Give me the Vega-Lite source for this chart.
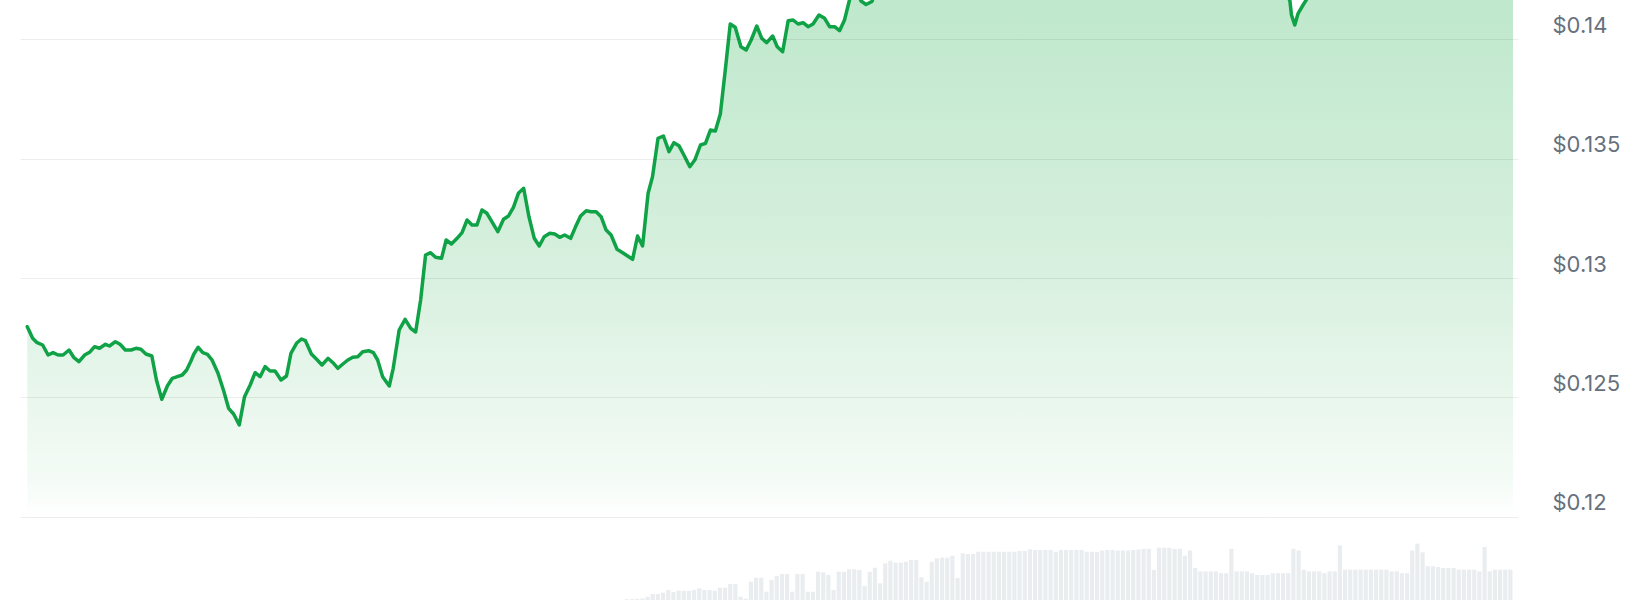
{
  "$schema": "https://vega.github.io/schema/vega-lite/v6.json",
  "width": 1498,
  "height": 600,
  "autosize": {"type": "none"},
  "padding": {"left": 20, "right": 126, "top": 0, "bottom": 0},
  "background": "white",
  "config": {"view": {"stroke": null}},
  "datasets": {
    "price": [
      {"hour":0.037,"price":0.127962},{"hour":0.123,"price":0.127477},{"hour":0.187,"price":0.12731},{"hour":0.284,"price":0.127197},{"hour":0.373,"price":0.126778},{"hour":0.453,"price":0.126874},{"hour":0.534,"price":0.126778},{"hour":0.614,"price":0.126778},{"hour":0.71,"price":0.126987},{"hour":0.785,"price":0.126682},{"hour":0.87,"price":0.126498},{"hour":0.961,"price":0.126778},{"hour":1.041,"price":0.126891},{"hour":1.122,"price":0.127126},{"hour":1.202,"price":0.127059},{"hour":1.298,"price":0.127226},{"hour":1.362,"price":0.127155},{"hour":1.458,"price":0.127335},{"hour":1.533,"price":0.127226},{"hour":1.618,"price":0.126987},{"hour":1.71,"price":0.126987},{"hour":1.79,"price":0.127059},{"hour":1.87,"price":0.127017},{"hour":1.95,"price":0.12682},{"hour":2.046,"price":0.126736},{"hour":2.12,"price":0.125732},{"hour":2.206,"price":0.124925},{"hour":2.296,"price":0.125481},{"hour":2.376,"price":0.125803},{"hour":2.456,"price":0.12587},{"hour":2.536,"price":0.125941},{"hour":2.607,"price":0.126151},{"hour":2.671,"price":0.126498},{"hour":2.724,"price":0.12682},{"hour":2.793,"price":0.1271},{"hour":2.868,"price":0.126874},{"hour":2.943,"price":0.126808},{"hour":3.017,"price":0.126569},{"hour":3.113,"price":0.126012},{"hour":3.204,"price":0.125284},{"hour":3.284,"price":0.124548},{"hour":3.365,"price":0.12431},{"hour":3.456,"price":0.123849},{"hour":3.541,"price":0.125034},{"hour":3.632,"price":0.125523},{"hour":3.712,"price":0.126038},{"hour":3.792,"price":0.12587},{"hour":3.872,"price":0.126289},{"hour":3.953,"price":0.126109},{"hour":4.033,"price":0.126109},{"hour":4.129,"price":0.125732},{"hour":4.218,"price":0.1259},{"hour":4.289,"price":0.126849},{"hour":4.379,"price":0.127268},{"hour":4.459,"price":0.127448},{"hour":4.523,"price":0.127377},{"hour":4.619,"price":0.12682},{"hour":4.715,"price":0.126569},{"hour":4.79,"price":0.12636},{"hour":4.887,"price":0.12664},{"hour":4.967,"price":0.126456},{"hour":5.047,"price":0.126222},{"hour":5.127,"price":0.126402},{"hour":5.207,"price":0.126569},{"hour":5.287,"price":0.126682},{"hour":5.367,"price":0.126707},{"hour":5.447,"price":0.126916},{"hour":5.543,"price":0.126958},{"hour":5.619,"price":0.126874},{"hour":5.688,"price":0.126569},{"hour":5.768,"price":0.12587},{"hour":5.875,"price":0.125481},{"hour":5.939,"price":0.126222},{"hour":6.035,"price":0.127824},{"hour":6.131,"price":0.128272},{"hour":6.221,"price":0.127895},{"hour":6.301,"price":0.127741},{"hour":6.381,"price":0.12908},{"hour":6.461,"price":0.130962},{"hour":6.542,"price":0.131059},{"hour":6.622,"price":0.130866},{"hour":6.718,"price":0.130824},{"hour":6.793,"price":0.13159},{"hour":6.878,"price":0.131423},{"hour":6.969,"price":0.131661},{"hour":7.049,"price":0.131895},{"hour":7.13,"price":0.132427},{"hour":7.21,"price":0.132218},{"hour":7.29,"price":0.132218},{"hour":7.37,"price":0.132845},{"hour":7.45,"price":0.132707},{"hour":7.53,"price":0.132356},{"hour":7.626,"price":0.131937},{"hour":7.718,"price":0.132456},{"hour":7.798,"price":0.132594},{"hour":7.878,"price":0.132958},{"hour":7.958,"price":0.133544},{"hour":8.043,"price":0.133753},{"hour":8.128,"price":0.132565},{"hour":8.214,"price":0.131661},{"hour":8.294,"price":0.131339},{"hour":8.374,"price":0.131728},{"hour":8.464,"price":0.13187},{"hour":8.544,"price":0.131841},{"hour":8.624,"price":0.131703},{"hour":8.704,"price":0.131799},{"hour":8.801,"price":0.131661},{"hour":8.876,"price":0.132121},{"hour":8.961,"price":0.132594},{"hour":9.052,"price":0.132816},{"hour":9.132,"price":0.132774},{"hour":9.212,"price":0.132774},{"hour":9.292,"price":0.132565},{"hour":9.373,"price":0.132008},{"hour":9.453,"price":0.131799},{"hour":9.549,"price":0.131201},{"hour":9.64,"price":0.131059},{"hour":9.72,"price":0.130921},{"hour":9.8,"price":0.130782},{"hour":9.88,"price":0.131757},{"hour":9.961,"price":0.131339},{"hour":10.05,"price":0.133544},{"hour":10.121,"price":0.134238},{"hour":10.21,"price":0.135845},{"hour":10.297,"price":0.135941},{"hour":10.387,"price":0.135285},{"hour":10.467,"price":0.135661},{"hour":10.547,"price":0.135536},{"hour":10.627,"price":0.135146},{"hour":10.723,"price":0.134657},{"hour":10.803,"price":0.134937},{"hour":10.895,"price":0.135565},{"hour":10.975,"price":0.135636},{"hour":11.055,"price":0.136192},{"hour":11.135,"price":0.136151},{"hour":11.215,"price":0.136862},{"hour":11.295,"price":0.138703},{"hour":11.375,"price":0.140628},{"hour":11.455,"price":0.14049},{"hour":11.547,"price":0.139678},{"hour":11.632,"price":0.13954},{"hour":11.712,"price":0.139958},{"hour":11.803,"price":0.140544},{"hour":11.883,"price":0.140029},{"hour":11.963,"price":0.139845},{"hour":12.059,"price":0.140126},{"hour":12.133,"price":0.139678},{"hour":12.22,"price":0.139469},{"hour":12.309,"price":0.140766},{"hour":12.389,"price":0.140795},{"hour":12.469,"price":0.140628},{"hour":12.55,"price":0.140682},{"hour":12.63,"price":0.140515},{"hour":12.71,"price":0.140628},{"hour":12.806,"price":0.141004},{"hour":12.897,"price":0.140866},{"hour":12.977,"price":0.140515},{"hour":13.057,"price":0.140515},{"hour":13.138,"price":0.140347},{"hour":13.218,"price":0.140795},{"hour":13.298,"price":0.141632},{"hour":13.386,"price":0.142134},{"hour":13.485,"price":0.14159},{"hour":13.565,"price":0.141444},{"hour":13.661,"price":0.141569},{"hour":13.746,"price":0.142218},{"hour":14.259,"price":0.1425},{"hour":14.9,"price":0.1428},{"hour":15.701,"price":0.1432},{"hour":16.502,"price":0.1429},{"hour":17.303,"price":0.1433},{"hour":18.104,"price":0.143},{"hour":18.905,"price":0.1427},{"hour":19.706,"price":0.1424},{"hour":20.267,"price":0.142},{"hour":20.4,"price":0.141632},{"hour":20.427,"price":0.141004},{"hour":20.48,"price":0.140586},{"hour":20.535,"price":0.141075},{"hour":20.614,"price":0.141423},{"hour":20.747,"price":0.141967},{"hour":21.148,"price":0.1424},{"hour":21.789,"price":0.1428},{"hour":22.59,"price":0.1431},{"hour":23.391,"price":0.1429},{"hour":24.0,"price":0.1432}
    ],
    "volume": [
      {"hour":9.708,"vol":0.04},{"hour":9.792,"vol":0.04},{"hour":9.875,"vol":0.05},{"hour":9.958,"vol":0.075},{"hour":10.042,"vol":0.165},{"hour":10.125,"vol":0.3},{"hour":10.208,"vol":0.3},{"hour":10.292,"vol":0.365},{"hour":10.375,"vol":0.5},{"hour":10.458,"vol":0.4},{"hour":10.542,"vol":0.465},{"hour":10.625,"vol":0.465},{"hour":10.708,"vol":0.465},{"hour":10.792,"vol":0.5},{"hour":10.875,"vol":0.585},{"hour":10.958,"vol":0.5},{"hour":11.042,"vol":0.5},{"hour":11.125,"vol":0.465},{"hour":11.208,"vol":0.615},{"hour":11.292,"vol":0.615},{"hour":11.375,"vol":0.8},{"hour":11.458,"vol":0.8},{"hour":11.542,"vol":0.165},{"hour":11.625,"vol":0.065},{"hour":11.708,"vol":0.915},{"hour":11.792,"vol":1.115},{"hour":11.875,"vol":1.115},{"hour":11.958,"vol":0.415},{"hour":12.042,"vol":1.0},{"hour":12.125,"vol":1.2},{"hour":12.208,"vol":1.3},{"hour":12.292,"vol":1.3},{"hour":12.375,"vol":0.415},{"hour":12.458,"vol":1.3},{"hour":12.542,"vol":1.3},{"hour":12.625,"vol":0.415},{"hour":12.708,"vol":0.415},{"hour":12.792,"vol":1.415},{"hour":12.875,"vol":1.385},{"hour":12.958,"vol":1.25},{"hour":13.042,"vol":0.5},{"hour":13.125,"vol":1.415},{"hour":13.208,"vol":1.415},{"hour":13.292,"vol":1.535},{"hour":13.375,"vol":1.535},{"hour":13.458,"vol":1.5},{"hour":13.542,"vol":0.7},{"hour":13.625,"vol":1.415},{"hour":13.708,"vol":1.615},{"hour":13.792,"vol":0.835},{"hour":13.875,"vol":1.835},{"hour":13.958,"vol":1.965},{"hour":14.042,"vol":1.865},{"hour":14.125,"vol":1.865},{"hour":14.208,"vol":1.915},{"hour":14.292,"vol":2.0},{"hour":14.375,"vol":2.0},{"hour":14.458,"vol":1.135},{"hour":14.542,"vol":0.915},{"hour":14.625,"vol":1.915},{"hour":14.708,"vol":2.085},{"hour":14.792,"vol":2.115},{"hour":14.875,"vol":2.115},{"hour":14.958,"vol":2.215},{"hour":15.042,"vol":1.1},{"hour":15.125,"vol":2.335},{"hour":15.208,"vol":2.3},{"hour":15.292,"vol":2.3},{"hour":15.375,"vol":2.415},{"hour":15.458,"vol":2.415},{"hour":15.542,"vol":2.415},{"hour":15.625,"vol":2.415},{"hour":15.708,"vol":2.415},{"hour":15.792,"vol":2.415},{"hour":15.875,"vol":2.415},{"hour":15.958,"vol":2.415},{"hour":16.042,"vol":2.45},{"hour":16.125,"vol":2.45},{"hour":16.208,"vol":2.535},{"hour":16.292,"vol":2.5},{"hour":16.375,"vol":2.5},{"hour":16.458,"vol":2.5},{"hour":16.542,"vol":2.5},{"hour":16.625,"vol":2.415},{"hour":16.708,"vol":2.5},{"hour":16.792,"vol":2.5},{"hour":16.875,"vol":2.5},{"hour":16.958,"vol":2.5},{"hour":17.042,"vol":2.5},{"hour":17.125,"vol":2.415},{"hour":17.208,"vol":2.415},{"hour":17.292,"vol":2.4},{"hour":17.375,"vol":2.475},{"hour":17.458,"vol":2.5},{"hour":17.542,"vol":2.5},{"hour":17.625,"vol":2.475},{"hour":17.708,"vol":2.475},{"hour":17.792,"vol":2.475},{"hour":17.875,"vol":2.5},{"hour":17.958,"vol":2.525},{"hour":18.042,"vol":2.56},{"hour":18.125,"vol":2.56},{"hour":18.208,"vol":1.5},{"hour":18.292,"vol":2.615},{"hour":18.375,"vol":2.615},{"hour":18.458,"vol":2.615},{"hour":18.542,"vol":2.56},{"hour":18.625,"vol":2.56},{"hour":18.708,"vol":2.215},{"hour":18.792,"vol":2.475},{"hour":18.875,"vol":1.6},{"hour":18.958,"vol":1.43},{"hour":19.042,"vol":1.43},{"hour":19.125,"vol":1.43},{"hour":19.208,"vol":1.43},{"hour":19.292,"vol":1.34},{"hour":19.375,"vol":1.34},{"hour":19.458,"vol":2.56},{"hour":19.542,"vol":1.43},{"hour":19.625,"vol":1.43},{"hour":19.708,"vol":1.43},{"hour":19.792,"vol":1.34},{"hour":19.875,"vol":1.25},{"hour":19.958,"vol":1.25},{"hour":20.042,"vol":1.25},{"hour":20.125,"vol":1.34},{"hour":20.208,"vol":1.34},{"hour":20.292,"vol":1.34},{"hour":20.375,"vol":1.34},{"hour":20.458,"vol":2.56},{"hour":20.542,"vol":2.475},{"hour":20.625,"vol":1.515},{"hour":20.708,"vol":1.43},{"hour":20.792,"vol":1.43},{"hour":20.875,"vol":1.43},{"hour":20.958,"vol":1.34},{"hour":21.042,"vol":1.43},{"hour":21.125,"vol":1.43},{"hour":21.208,"vol":2.735},{"hour":21.292,"vol":1.515},{"hour":21.375,"vol":1.515},{"hour":21.458,"vol":1.515},{"hour":21.542,"vol":1.515},{"hour":21.625,"vol":1.515},{"hour":21.708,"vol":1.515},{"hour":21.792,"vol":1.515},{"hour":21.875,"vol":1.515},{"hour":21.958,"vol":1.515},{"hour":22.042,"vol":1.43},{"hour":22.125,"vol":1.43},{"hour":22.208,"vol":1.34},{"hour":22.292,"vol":1.34},{"hour":22.375,"vol":2.475},{"hour":22.458,"vol":2.82},{"hour":22.542,"vol":2.385},{"hour":22.625,"vol":1.69},{"hour":22.708,"vol":1.69},{"hour":22.792,"vol":1.65},{"hour":22.875,"vol":1.6},{"hour":22.958,"vol":1.6},{"hour":23.042,"vol":1.6},{"hour":23.125,"vol":1.515},{"hour":23.208,"vol":1.515},{"hour":23.292,"vol":1.515},{"hour":23.375,"vol":1.515},{"hour":23.458,"vol":1.43},{"hour":23.542,"vol":2.65},{"hour":23.625,"vol":1.43},{"hour":23.708,"vol":1.515},{"hour":23.792,"vol":1.515},{"hour":23.875,"vol":1.515},{"hour":23.958,"vol":1.515}
    ]
  },
  "layer": [
    {
      "data": {"name": "volume"},
      "mark": {"type": "bar", "size": 4.2, "color": "#eaedf0", "clip": true},
      "encoding": {
        "x": {"field": "hour", "type": "quantitative", "scale": {"domain": [0, 24], "nice": false}, "axis": null},
        "y": {"field": "vol", "type": "quantitative", "scale": {"domain": [0, 30], "nice": false}, "axis": null}
      }
    },
    {
      "data": {"name": "price"},
      "mark": {
        "type": "area",
        "clip": true,
        "fill": {
          "gradient": "linear", "x1": 0, "y1": 0, "x2": 0, "y2": 1,
          "stops": [
            {"offset": 0, "color": "#bbe6c8"},
            {"offset": 0.072, "color": "#bfe8cc"},
            {"offset": 0.557, "color": "#d8f0df"},
            {"offset": 0.934, "color": "#f4fbf6"},
            {"offset": 1, "color": "#ffffff"}
          ]
        }
      },
      "encoding": {
        "x": {"field": "hour", "type": "quantitative", "scale": {"domain": [0, 24], "nice": false}, "axis": null},
        "y": {
          "field": "price", "type": "quantitative",
          "scale": {"domain": [0.116527, 0.141632], "nice": false, "zero": false},
          "axis": {
            "orient": "right",
            "values": [0.12, 0.125, 0.13, 0.135, 0.14],
            "format": "$.3~f",
            "title": null,
            "domain": false,
            "ticks": false,
            "grid": true,
            "gridColor": "#000000",
            "gridOpacity": 0.07,
            "gridWidth": 1,
            "zindex": 1,
            "labelPadding": 34,
            "labelFont": "Inter",
            "labelFontSize": 22,
            "labelColor": "#67707d",
            "labelBaseline": "middle",
            "labelOffset": -14
          }
        },
        "y2": {"datum": 0.12}
      }
    },
    {
      "data": {"name": "price"},
      "mark": {"type": "line", "clip": true, "color": "#0fa246", "strokeWidth": 3.5, "strokeJoin": "round", "strokeCap": "round"},
      "encoding": {
        "x": {"field": "hour", "type": "quantitative", "scale": {"domain": [0, 24], "nice": false}, "axis": null},
        "y": {"field": "price", "type": "quantitative", "scale": {"domain": [0.116527, 0.141632], "nice": false, "zero": false}, "axis": null}
      }
    }
  ],
  "resolve": {"scale": {"y": "independent"}}
}
